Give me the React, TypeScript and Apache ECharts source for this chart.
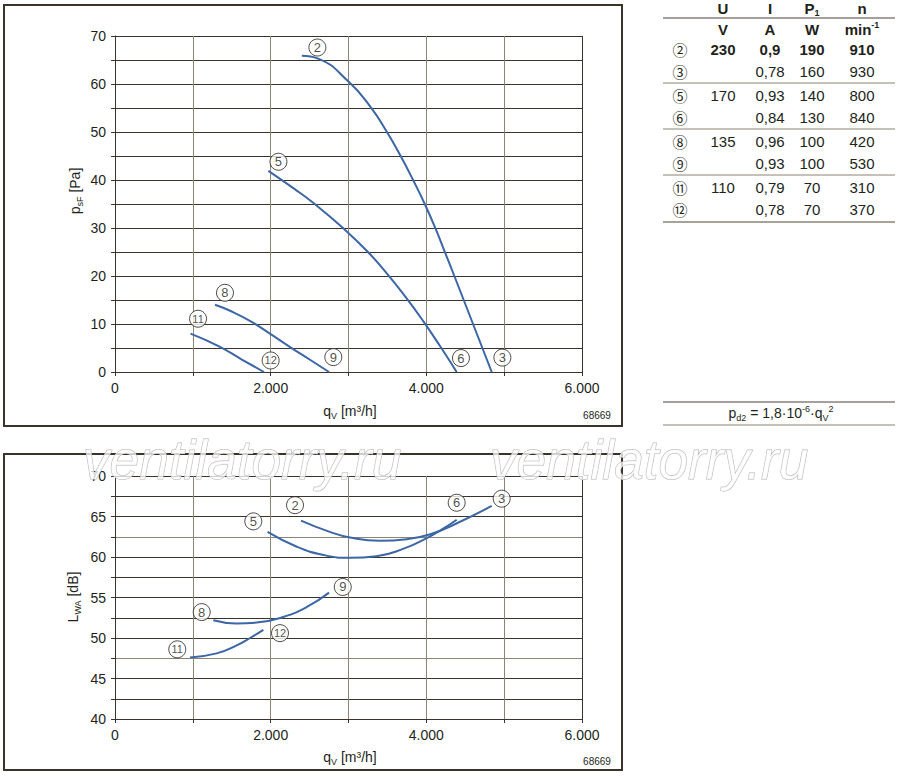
import React, { useEffect, useRef } from "react";
import * as echarts from "echarts";

// ---------- data ----------
// Pressure curves p_sF [Pa] vs q_V [m³/h]
const pressure2to3 = [
  [2400, 65.9], [2610, 65.3], [3000, 60.5], [3280, 55.3], [3490, 50.1], [3670, 45.0],
  [3830, 40.0], [3980, 35.0], [4120, 29.8], [4250, 24.5], [4360, 20.0], [4600, 10.0], [4720, 5.0], [4840, 0],
];
const pressure5to6 = [
  [1970, 41.9], [2300, 38.2], [2550, 35.2], [2930, 30.0], [3250, 25.0], [3500, 20.4],
  [3740, 15.5], [3960, 10.6], [4180, 5.3], [4390, 0],
];
const pressure8to9 = [
  [1285, 14.0], [1500, 12.6], [1750, 10.5], [2000, 7.9], [2250, 5.2], [2500, 2.6], [2750, 0],
];
const pressure11to12 = [[970, 8.0], [1330, 5.4], [1630, 2.6], [1914, 0]];

// Sound power curves L_WA [dB] vs q_V [m³/h]
const sound2to3 = [
  [2390, 64.5], [2760, 63.1], [3020, 62.4], [3400, 62.0], [3750, 62.2], [4050, 62.8],
  [4400, 64.2], [4840, 66.3],
];
const sound5to6 = [
  [1960, 63.1], [2330, 61.3], [2680, 60.25], [3020, 59.9], [3360, 60.1], [3700, 61.0],
  [4000, 62.3], [4200, 63.4], [4390, 64.6],
];
const sound8to9 = [[1263, 52.2], [1560, 51.8], [1820, 51.9], [2160, 52.6], [2460, 53.8], [2750, 55.6]];
const sound11to12 = [[964, 47.6], [1306, 48.1], [1563, 49.1], [1735, 50.0], [1906, 51.0]];

// operating point markers
const pressureMarkNames = ["2", "3", "5", "6", "8", "9", "11", "12"];
const pressureMarkPos = [
  [2600, 67.6], [4977, 3.0], [2100, 43.8], [4445, 2.9], [1413, 16.5], [2805, 3.1], [1067, 11.1], [2000, 2.4],
];
const soundMarkNames = ["2", "3", "5", "6", "8", "9", "11", "12"];
const soundMarkPos = [
  [2313, 66.4], [4968, 67.2], [1777, 64.4], [4390, 66.7], [1114, 53.2], [2926, 56.3], [800, 48.6], [2120, 50.6],
];

// table
const tableMarks = ["②", "③", "⑤", "⑥", "⑧", "⑨", "⑪", "⑫"];
const tableU = ["230", "", "170", "", "135", "", "110", ""];
const tableI = ["0,9", "0,78", "0,93", "0,84", "0,96", "0,93", "0,79", "0,78"];
const tableP = ["190", "160", "140", "130", "100", "100", "70", "70"];
const tableN = ["910", "930", "800", "840", "420", "530", "310", "370"];

const drawingNo = "68669";
const watermark = "ventilatorry.ru";

// ---------- styles ----------
const FONT = '"Liberation Sans", Arial, Helvetica, sans-serif';
const INK = "#231f1a";
const DARK = "#3b3328";
const GRAY = "#8c8474";
const CURVE = "#3c66a4";

const flowLabel = (v: number) => (v % 2000 === 0 ? (v === 0 ? "0" : `${v / 1000}.000`) : "");

const richBase = (size = 13, weight = "normal") => ({
  m: { fontSize: size, fontFamily: FONT, fill: INK, fontWeight: weight, lineHeight: 18 },
  s: { fontSize: 9, fontFamily: FONT, fill: INK, fontWeight: weight, verticalAlign: "bottom" },
  u: { fontSize: 9, fontFamily: FONT, fill: INK, fontWeight: weight, verticalAlign: "top" },
});

function txt(x: number, y: number, text: string, extra: any = {}) {
  return {
    type: "text",
    x,
    y,
    z: 20,
    silent: true,
    style: {
      text,
      fill: INK,
      fontSize: 13,
      fontFamily: FONT,
      align: "center",
      verticalAlign: "middle",
      textAlign: "center",
      textVerticalAlign: "middle",
      ...extra,
    },
  };
}

function hline(x1: number, x2: number, y: number, color = "#4a4238", w = 1) {
  return { type: "line", z: 20, silent: true, shape: { x1, y1: y, x2, y2: y }, style: { stroke: color, lineWidth: w } };
}

function lineSeries(data: number[][], idx: number) {
  return {
    type: "line",
    xAxisIndex: idx,
    yAxisIndex: idx,
    data,
    smooth: 0.5,
    symbol: "none",
    showSymbol: false,
    lineStyle: { color: CURVE, width: 2 },
    z: 3,
    silent: true,
  };
}

function markSeries(names: string[], pos: number[][], idx: number) {
  return {
    type: "scatter",
    xAxisIndex: idx,
    yAxisIndex: idx,
    symbol: "circle",
    symbolSize: 17,
    itemStyle: { color: "#fff", borderColor: INK, borderWidth: 1 },
    label: {
      show: true,
      position: "inside",
      formatter: "{b}",
      color: INK,
      fontFamily: FONT,
      fontSize: 13,
    },
    data: names.map((n, i) => ({
      name: n,
      value: pos[i],
      label: n.length > 1 ? { fontSize: 11 } : undefined,
    })),
    z: 5,
    silent: true,
  };
}

function xAxis(gridIndex: number) {
  return {
    type: "value",
    gridIndex,
    min: 0,
    max: 6000,
    interval: 1000,
    axisLine: { show: true, lineStyle: { color: DARK, width: 1 } },
    axisTick: { show: true, length: 4, lineStyle: { color: DARK } },
    axisLabel: { formatter: flowLabel, color: INK, fontSize: 14, fontFamily: FONT, margin: 9 },
    splitLine: { show: true, lineStyle: { color: [DARK, GRAY, GRAY, GRAY, GRAY, GRAY, DARK], width: 1 } },
  };
}

export default function App() {
  const ref = useRef<HTMLDivElement>(null);

  useEffect(() => {
    if (!ref.current) return;
    const chart = echarts.init(ref.current, undefined, { renderer: "svg" });

    const graphics: any[] = [];
    // frames
    graphics.push({
      type: "rect", z: 1, silent: true,
      shape: { x: 4, y: 5, width: 618, height: 421 },
      style: { fill: "none", stroke: DARK, lineWidth: 2 },
    });
    graphics.push({
      type: "rect", z: 1, silent: true,
      shape: { x: 4, y: 454, width: 618, height: 316 },
      style: { fill: "none", stroke: DARK, lineWidth: 2 },
    });

    // axis names
    graphics.push({
      ...txt(75, 191, "{m|p}{s|sF}{m| [Pa]}", { rich: richBase(14) }),
      rotation: Math.PI / 2,
    });
    graphics.push({
      ...txt(73, 597, "{m|L}{s|WA}{m| [dB]}", { rich: richBase(14) }),
      rotation: Math.PI / 2,
    });
    graphics.push(txt(350, 411, "{m|q}{s|V}{m| [m³/h]}", { rich: richBase(14) }));
    graphics.push(txt(350, 757, "{m|q}{s|V}{m| [m³/h]}", { rich: richBase(14) }));
    graphics.push(txt(597, 415, drawingNo, { fontSize: 10 }));
    graphics.push(txt(597, 761, drawingNo, { fontSize: 10 }));

    // table
    const colX = [680, 723, 770, 812, 862];
    const TF = 15;
    const HY = 8;
    graphics.push(txt(colX[1], HY, "U", { fontWeight: "bold", fontSize: TF }));
    graphics.push(txt(colX[2], HY, "I", { fontWeight: "bold", fontSize: TF }));
    graphics.push(txt(colX[3], HY, "{m|P}{s|1}", { rich: richBase(TF, "bold") }));
    graphics.push(txt(colX[4], HY, "n", { fontWeight: "bold", fontSize: TF }));
    graphics.push(hline(663, 895, 18));
    graphics.push(txt(colX[1], 29, "V", { fontWeight: "bold", fontSize: TF }));
    graphics.push(txt(colX[2], 29, "A", { fontWeight: "bold", fontSize: TF }));
    graphics.push(txt(colX[3], 29, "W", { fontWeight: "bold", fontSize: TF }));
    graphics.push(txt(colX[4], 29, "{m|min}{u|-1}", { rich: richBase(TF, "bold") }));

    const rowY = [49, 71, 95, 117, 141, 163, 187, 209];
    tableMarks.forEach((m, i) => {
      const w = i === 0 ? "bold" : "normal";
      graphics.push(txt(colX[0], rowY[i], m, { fontFamily: '"Noto Sans CJK JP", "DejaVu Sans", sans-serif', fontSize: 15 }));
      if (tableU[i]) graphics.push(txt(colX[1], rowY[i], tableU[i], { fontWeight: w, fontSize: TF }));
      graphics.push(txt(colX[2], rowY[i], tableI[i], { fontWeight: w, fontSize: TF }));
      graphics.push(txt(colX[3], rowY[i], tableP[i], { fontWeight: w, fontSize: TF }));
      graphics.push(txt(colX[4], rowY[i], tableN[i], { fontWeight: w, fontSize: TF }));
    });
    [83, 129, 175].forEach((y) => graphics.push(hline(663, 895, y, "#8c8474")));
    graphics.push(hline(663, 895, 222, "#8c8474", 1.5));

    // formula
    graphics.push(hline(663, 895, 402));
    graphics.push(hline(663, 895, 425, "#8c8474"));
    graphics.push(
      txt(781, 413, "{m|p}{s|d2}{m| = 1,8·10}{u|-6}{m|·q}{s|V}{u|2}", { rich: richBase(14) })
    );

    // watermark
    [83, 490].forEach((x) =>
      graphics.push({
        type: "text",
        x,
        y: 488,
        z: 60,
        scaleX: 0.95,
        silent: true,
        style: {
          text: watermark,
          fill: "rgba(255,255,255,0.75)",
          stroke: "#b4b4b4",
          lineWidth: 1,
          fontSize: 56,
          fontStyle: "italic",
          fontFamily: FONT,
          align: "left",
          textAlign: "left",
          verticalAlign: "bottom",
          textVerticalAlign: "bottom",
        },
      })
    );

    const option: any = {
      animation: false,
      backgroundColor: "#ffffff",
      grid: [
        { left: 115, top: 36, width: 467, height: 336 },
        { left: 115, top: 476, width: 467, height: 243 },
      ],
      xAxis: [xAxis(0), xAxis(1)],
      yAxis: [
        {
          type: "value",
          gridIndex: 0,
          min: 0,
          max: 70,
          interval: 5,
          axisLine: { show: true, lineStyle: { color: DARK, width: 1 } },
          axisTick: { show: true, length: 4, lineStyle: { color: DARK } },
          axisLabel: {
            formatter: (v: number) => (v % 10 === 0 ? String(v) : ""),
            color: INK, fontSize: 14, fontFamily: FONT, margin: 9,
          },
          splitLine: { show: true, lineStyle: { color: DARK, width: 1 } },
        },
        {
          type: "value",
          gridIndex: 1,
          min: 40,
          max: 70,
          interval: 2.5,
          axisLine: { show: true, lineStyle: { color: DARK, width: 1 } },
          axisTick: { show: true, length: 4, lineStyle: { color: DARK } },
          axisLabel: {
            formatter: (v: number) => (v % 5 === 0 ? String(v) : ""),
            color: INK, fontSize: 14, fontFamily: FONT, margin: 9,
          },
          splitLine: {
            show: true,
            lineStyle: {
              color: [DARK, DARK, DARK, GRAY, DARK, DARK, DARK, DARK, DARK, GRAY, DARK, DARK, DARK],
              width: 1,
            },
          },
        },
      ],
      series: [
        lineSeries(pressure2to3, 0),
        lineSeries(pressure5to6, 0),
        lineSeries(pressure8to9, 0),
        lineSeries(pressure11to12, 0),
        markSeries(pressureMarkNames, pressureMarkPos, 0),
        lineSeries(sound2to3, 1),
        lineSeries(sound5to6, 1),
        lineSeries(sound8to9, 1),
        lineSeries(sound11to12, 1),
        markSeries(soundMarkNames, soundMarkPos, 1),
      ],
      graphic: graphics,
    };

    chart.setOption(option);
    return () => chart.dispose();
  }, []);

  return (
    <div
      ref={ref}
      style={{ position: "fixed", left: 0, top: 0, width: 900, height: 776, background: "#fff" }}
    />
  );
}
